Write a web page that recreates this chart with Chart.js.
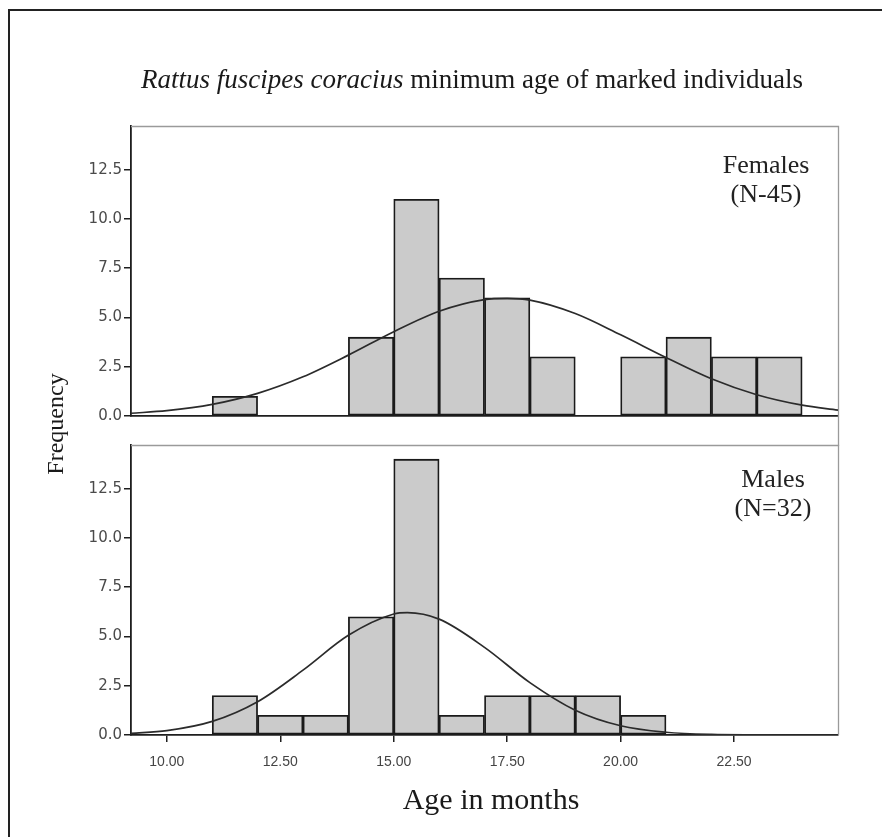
<!DOCTYPE html>
<html>
<head>
<meta charset="utf-8">
<script src="https://cdn.jsdelivr.net/npm/chart.js@4.4.1/dist/chart.umd.min.js"></script>
<style>
  body { margin: 0; background: #fff; }
  #wrap { position: relative; width: 882px; height: 837px; overflow: hidden; }
  #wrap canvas { position: absolute; left: 0; top: 0; }
</style>
</head>
<body>
<div id="wrap">
  <canvas id="females" width="882" height="837"></canvas>
  <canvas id="males" width="882" height="837"></canvas>
</div>
<script>
  // histogram bins (age in months, width 1) and counts
  var binStarts = [11, 12, 13, 14, 15, 16, 17, 18, 19, 20, 21, 22, 23];
  var femaleCounts = [1, 0, 0, 4, 11, 7, 6, 3, 0, 3, 4, 3, 3];
  var maleCounts = [2, 1, 1, 6, 14, 1, 2, 2, 2, 1, 0, 0, 0];

  // fitted normal curves
  var femaleCurveX = [9.21, 10, 11, 12, 13, 14, 15, 16, 17, 17.5, 18, 19, 20, 21, 22, 23, 24, 24.79];
  var femaleCurveY = [0.14, 0.27, 0.59, 1.15, 1.99, 3.09, 4.28, 5.32, 5.91, 5.97, 5.88, 5.2, 4.12, 2.97, 1.89, 1.08, 0.55, 0.3];
  var maleCurveX = [9.21, 10, 11, 12, 13, 14, 15, 15.3, 16, 17, 18, 19, 20, 21, 22, 23, 24, 24.79];
  var maleCurveY = [0.08, 0.22, 0.69, 1.69, 3.29, 5.06, 6.14, 6.21, 5.88, 4.45, 2.66, 1.26, 0.47, 0.14, 0.03, 0.01, 0, 0];

  var xTicks = [10, 12.5, 15, 17.5, 20, 22.5];
  var yTicks = [0, 2.5, 5, 7.5, 10, 12.5];
  var xMin = 9.21, xMax = 24.79, yMax = 14.72;

  var serif = '"Liberation Serif", "Times New Roman", serif';
  var sans = '"Liberation Sans", Arial, sans-serif';
  var wide = '"DejaVu Sans", Verdana, sans-serif';
  var dark = '#1e1e1e';

  function toPoints(xs, ys) {
    return xs.map(function(x, i) { return {x: x, y: ys[i]}; });
  }
  function barPoints(counts) {
    return binStarts.map(function(b, i) { return {x: b + 0.5, y: counts[i]}; });
  }

  // grey box + panel label
  var panelPlugin = {
    id: 'panel',
    beforeDatasetsDraw: function(chart, args, opts) {
      var a = chart.chartArea, ctx = chart.ctx;
      ctx.save();
      ctx.strokeStyle = '#9a9a9a';
      ctx.lineWidth = 1.3;
      ctx.beginPath();
      ctx.moveTo(a.left, a.top + 0.5);
      ctx.lineTo(a.right + 0.5, a.top + 0.5);
      ctx.lineTo(a.right + 0.5, a.bottom + (opts.extendRight || 0));
      ctx.stroke();
      ctx.restore();
    },
    afterDraw: function(chart, args, opts) {
      var a = chart.chartArea, ctx = chart.ctx;
      ctx.save();
      ctx.fillStyle = '#222';
      ctx.font = '26px ' + serif;
      ctx.textAlign = 'center';
      ctx.textBaseline = 'alphabetic';
      opts.lines.forEach(function(t, i) {
        ctx.fillText(t, a.right - opts.dx[i], a.top + opts.dy[i]);
      });
      ctx.restore();
    }
  };

  // figure frame, title and axis titles
  var figurePlugin = {
    id: 'figure',
    afterDraw: function(chart) {
      var ctx = chart.ctx;
      ctx.save();
      ctx.strokeStyle = '#222';
      ctx.lineWidth = 2;
      ctx.beginPath();
      ctx.moveTo(9, 837);
      ctx.lineTo(9, 10);
      ctx.lineTo(882, 10);
      ctx.stroke();

      ctx.fillStyle = '#1a1a1a';
      ctx.textBaseline = 'alphabetic';
      var p1 = 'Rattus fuscipes coracius ', p2 = 'minimum age of marked individuals';
      ctx.font = 'italic 27px ' + serif;
      var w1 = ctx.measureText(p1).width;
      ctx.font = '27px ' + serif;
      var w2 = ctx.measureText(p2).width;
      var x0 = 472 - (w1 + w2) / 2;
      ctx.font = 'italic 27px ' + serif;
      ctx.fillText(p1, x0, 88);
      ctx.font = '27px ' + serif;
      ctx.fillText(p2, x0 + w1, 88);

      ctx.textAlign = 'center';
      ctx.font = '30px ' + serif;
      ctx.fillText('Age in months', 491, 809);

      ctx.translate(63, 424);
      ctx.rotate(-Math.PI / 2);
      ctx.font = '24px ' + serif;
      ctx.fillText('Frequency', 0, 0);
      ctx.restore();
    }
  };

  function makeChart(id, counts, curveX, curveY, opts) {
    return new Chart(id, {
      type: 'bar',
      data: {
        datasets: [{
          type: 'line',
          data: toPoints(curveX, curveY),
          borderColor: '#2b2b2b',
          borderWidth: 1.7,
          pointRadius: 0,
          cubicInterpolationMode: 'monotone',
          order: 0
        }, {
          type: 'bar',
          data: barPoints(counts),
          backgroundColor: '#cbcbcb',
          borderColor: '#1a1a1a',
          borderWidth: 1.8,
          borderSkipped: false,
          barPercentage: 1,
          categoryPercentage: 1,
          order: 1
        }]
      },
      options: {
        responsive: false,
        animation: false,
        events: [],
        layout: { padding: opts.padding },
        plugins: {
          legend: { display: false },
          tooltip: { enabled: false },
          panel: opts.panel
        },
        scales: {
          x: {
            type: 'linear',
            min: xMin,
            max: xMax,
            offset: false,
            afterBuildTicks: function(scale) {
              scale.ticks = xTicks.map(function(v) { return {value: v}; });
            },
            afterFit: function(scale) { scale.height = opts.xHeight; },
            border: { color: dark, width: 1.8 },
            grid: {
              offset: false,
              drawOnChartArea: false,
              drawTicks: opts.showX,
              tickLength: 7,
              color: dark,
              lineWidth: 1.5
            },
            ticks: {
              display: opts.showX,
              padding: 12,
              color: '#444',
              font: { family: sans, size: 14 },
              callback: function(v) { return v.toFixed(2); }
            }
          },
          y: {
            min: 0,
            max: yMax,
            afterBuildTicks: function(scale) {
              scale.ticks = yTicks.map(function(v) { return {value: v}; });
            },
            afterFit: function(scale) { scale.width = 131; },
            border: { color: dark, width: 1.8 },
            grid: {
              offset: false,
              drawOnChartArea: false,
              tickLength: 7,
              color: dark,
              lineWidth: 1.5
            },
            ticks: {
              padding: 2,
              color: '#4a4a4a',
              font: { family: wide, size: 15 },
              callback: function(v) { return v.toFixed(1); }
            }
          }
        }
      },
      plugins: opts.plugins
    });
  }

  makeChart('females', femaleCounts, femaleCurveX, femaleCurveY, {
    padding: {top: 126, right: 44, bottom: 421, left: 0},
    xHeight: 0,
    showX: false,
    panel: {lines: ['Females', '(N-45)'], dx: [72, 72], dy: [47, 76], extendRight: 30},
    plugins: [panelPlugin]
  });

  makeChart('males', maleCounts, maleCurveX, maleCurveY, {
    padding: {top: 445, right: 44, bottom: 62, left: 0},
    xHeight: 40,
    showX: true,
    panel: {lines: ['Males', '(N=32)'], dx: [65, 65], dy: [42, 71]},
    plugins: [panelPlugin, figurePlugin]
  });
</script>
</body>
</html>
